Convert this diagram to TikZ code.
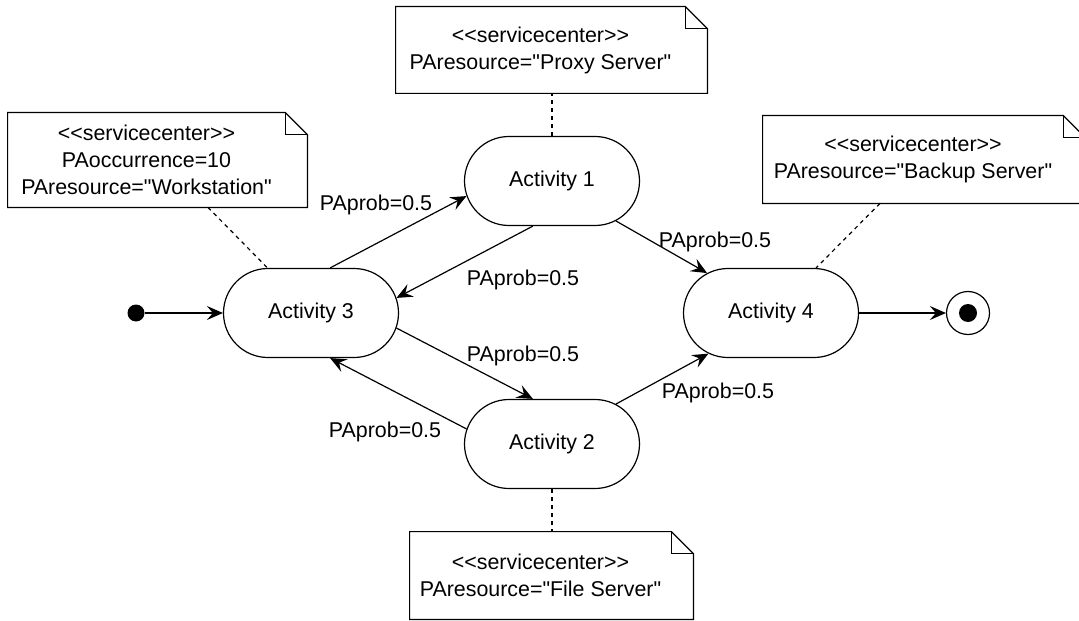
\documentclass[tikz,border=0pt]{standalone}
\usepackage{fontspec}
\setmainfont{Liberation Sans}[Ligatures=TeXOff]
\usetikzlibrary{shapes.misc,arrows.meta,calc}
\tikzset{
  activity/.style={rounded rectangle, draw, line width=0.6pt, minimum width=87.5pt, minimum height=44.5pt, inner sep=0pt},
  notetext/.style={align=center, inner sep=0pt},
  prob/.style={inner sep=0pt},
  flow/.style={line width=0.6pt, -{Stealth[length=8pt,width=7pt,inset=3pt]}},
  anchorline/.style={line width=0.6pt, dash pattern=on 2pt off 2pt},
}
\newcommand{\notebox}[1]{%
  \draw[line width=0.6pt] (#1.south west) -- (#1.north west) -- (#1.north east) -- ($(#1.north east)+(22,22)$) -- ($(#1.south east)+(22,0)$) -- cycle;
  \draw[line width=0.6pt] (#1.north east) -- ($(#1.north east)+(0,22)$) -- ($(#1.north east)+(22,22)$);
}
\begin{document}
\begin{tikzpicture}[x=0.5pt,y=-0.5pt,font=\fontsize{10.7}{13.5}\selectfont]
\useasboundingbox (0,0) rectangle (1079,620);

        \node[activity] (act3) at (311,313) {Activity 3};
        \node[activity] (act1) at (552,181) {Activity 1};
        \node[activity] (act2) at (552,444) {Activity 2};
        \node[activity] (act4) at (771,313) {Activity 4};
        \node[circle, fill, minimum size=8.5pt, inner sep=0pt] (start) at (136,313) {};
        \node[circle, draw, line width=0.6pt, minimum size=21.5pt, inner sep=0pt] (stop) at (968,313) {};
        \node[circle, fill, minimum size=9pt, inner sep=0pt] (stopdot) at (stop) {};

                \node[notetext, minimum width=138.5pt, minimum height=47pt] (wsnote) at (146.5,160) {<<servicecenter>>\\PAoccurrence=10\\PAresource="Workstation"};
                \node[notetext, minimum width=144.5pt, minimum height=43pt] (pxnote) at (540.5,50) {<<servicecenter>>\\PAresource="Proxy Server"};
                \node[notetext, minimum width=150pt, minimum height=43.5pt] (bknote) at (913,159.5) {<<servicecenter>>\\PAresource="Backup Server"};
                \node[notetext, minimum width=130.5pt, minimum height=43.5pt] (fsnote) at (540.5,575.5) {<<servicecenter>>\\PAresource="File Server"};
        \notebox{wsnote}
        \notebox{pxnote}
        \notebox{bknote}
        \notebox{fsnote}

        \node[prob] (p31) at (376,205) {PAprob=0.5};
        \node[prob] (p13) at (523,280) {PAprob=0.5};
        \node[prob] (p14) at (715,242) {PAprob=0.5};
        \node[prob] (p32) at (523,356) {PAprob=0.5};
        \node[prob] (p23) at (385,432) {PAprob=0.5};
        \node[prob] (p24) at (718,393) {PAprob=0.5};

                \draw[flow] (act3.67) -- (act1.190);
                \draw[flow] (act1.247) -- (act3.10);
                \draw[flow] (act1.328) -- (act4.148);
                \draw[flow] (act3.350) -- (act2.113);
                \draw[flow] (act2.170) -- (act3.293);
                \draw[flow] (act2.32) -- (act4.213);
                \draw[flow] (start) -- (act3.west);
                \draw[flow] (act4.east) -- (stop);

        \draw[anchorline] ($(wsnote.south)+(61.5,0)$) -- (act3.134);
        \draw[anchorline] (act1.north) -- (act1.north |- pxnote.south);
        \draw[anchorline] ($(bknote.south)+(-33,0)$) -- (act4.45);
        \draw[anchorline] (act2.south) -- (act2.south |- fsnote.north);
\end{tikzpicture}
\end{document}
